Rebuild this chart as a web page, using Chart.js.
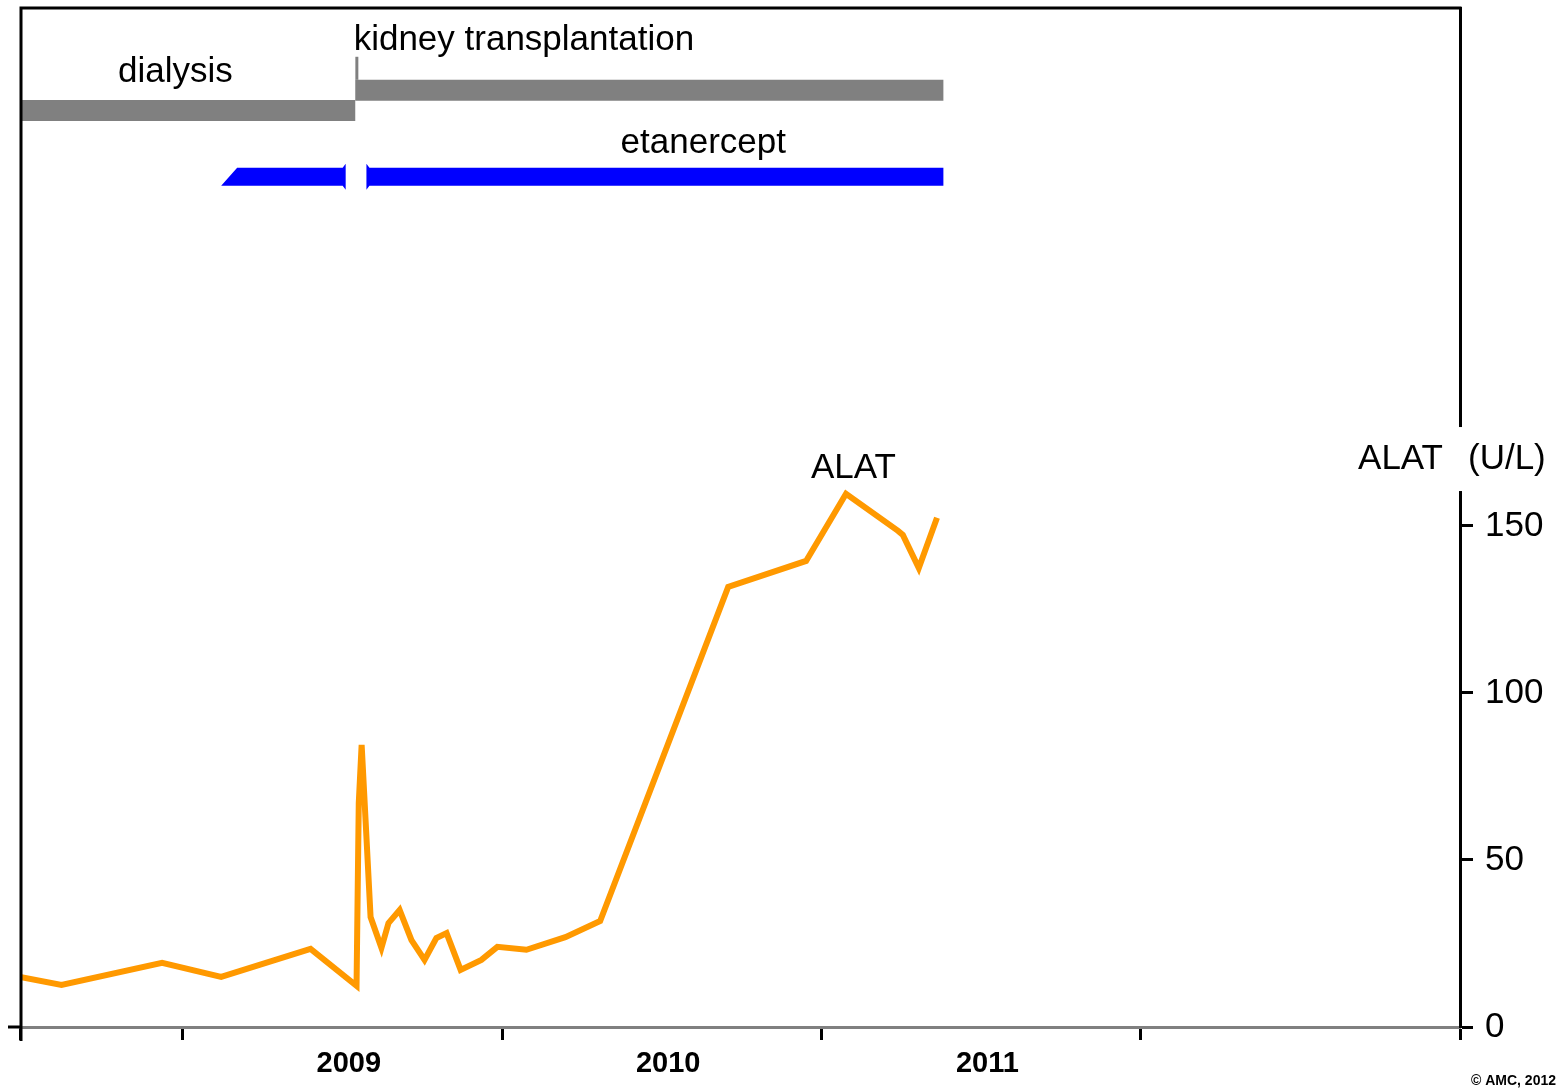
<!DOCTYPE html>
<html>
<head>
<meta charset="utf-8">
<script src="https://cdn.jsdelivr.net/npm/chart.js@4/dist/chart.umd.min.js"></script>
<style>
	html, body { margin: 0; padding: 0; background: #fff; }
	canvas { display: block; }
</style>
</head>
<body>
<canvas id="alatChart" width="1557" height="1091"></canvas>
<script>
// ALAT (U/L), time given as decimal years
const alat_dates = [2008.49, 2008.62, 2008.935, 2009.12, 2009.40, 2009.544, 2009.551, 2009.560, 2009.569, 2009.588,
	2009.622, 2009.644, 2009.679, 2009.716, 2009.757, 2009.794, 2009.826, 2009.870, 2009.935, 2009.985,
	2010.076, 2010.198, 2010.307, 2010.708, 2010.952, 2011.077, 2011.240, 2011.255, 2011.305, 2011.362];
const alat_values = [15.0, 12.6, 19.2, 15.0, 23.4, 12.3, 67.1, 84.4, 68.0, 32.9,
	23.7, 31.1, 35.0, 26.0, 20.1, 26.6, 28.1, 17.1, 20.1, 24.0,
	23.1, 26.9, 31.7, 131.7, 139.5, 159.6, 148.5, 147.3, 137.4, 152.4];

const year_ticks = [2008.49, 2009, 2009.52, 2010, 2010.52, 2011, 2011.52, 2012, 2013];
const year_labels = { 2009.52: '2009', 2010.52: '2010', 2011.52: '2011' };
const alat_ticks = [0, 50, 100, 150];

// treatment periods drawn above the curve
const dialysis_span = [2008.49, 2009.54];
const transplant_span = [2009.54, 2011.382];
const transplant_marker = [283.5, 290.4];
const etanercept_spans = [[2009.12, 2009.51], [2009.575, 2011.382]];
const levels = { dialysis: 274.3, transplant: 280.4, etanercept: 254.5 };

const notes = ['dialysis', 'kidney transplantation', 'etanercept', 'ALAT'];
const note_x = [2008.977, 2009.535, 2010.63, 2011.10];
const note_y = [282.9, 292.4, 261.7, 164.4];
const note_align = ['center', 'left', 'center', 'center'];

const FONT = "'Liberation Sans', Arial, sans-serif";

const annotations = {
	id: 'annotations',
	beforeDatasetsDraw: function(chart) {
		const ctx = chart.ctx;
		const xs = chart.scales.x, ys = chart.scales.y;
		const y = ys.getPixelForValue(levels.etanercept);
		const h = 9, flare = 4;
		ctx.save();
		ctx.fillStyle = '#0000ff';
		// first period, slanted start, flared end
		let a = xs.getPixelForValue(etanercept_spans[0][0]);
		let b = xs.getPixelForValue(etanercept_spans[0][1]);
		ctx.beginPath();
		ctx.moveTo(a, y + h);
		ctx.lineTo(a + 16, y - h);
		ctx.lineTo(b - 3, y - h);
		ctx.lineTo(b, y - h - flare);
		ctx.lineTo(b, y + h + flare);
		ctx.lineTo(b - 3, y + h);
		ctx.closePath();
		ctx.fill();
		// second period
		a = xs.getPixelForValue(etanercept_spans[1][0]);
		b = xs.getPixelForValue(etanercept_spans[1][1]);
		ctx.beginPath();
		ctx.moveTo(a, y - h - flare);
		ctx.lineTo(a + 3, y - h);
		ctx.lineTo(b, y - h);
		ctx.lineTo(b, y + h);
		ctx.lineTo(a + 3, y + h);
		ctx.lineTo(a, y + h + flare);
		ctx.closePath();
		ctx.fill();
		ctx.restore();
	},
	afterDraw: function(chart) {
		const ctx = chart.ctx;
		const area = chart.chartArea;
		const xs = chart.scales.x, ys = chart.scales.y;
		ctx.save();
		// frame: top and left lines
		ctx.strokeStyle = '#000';
		ctx.lineWidth = 3;
		ctx.beginPath();
		ctx.moveTo(area.left, area.top);
		ctx.lineTo(area.right + 1.5, area.top);
		ctx.moveTo(area.left + 1, area.top - 1.5);
		ctx.lineTo(area.left + 1, area.bottom + 14);
		ctx.moveTo(area.left - 12, area.bottom);
		ctx.lineTo(area.left, area.bottom);
		ctx.stroke();

		// right axis title breaks the axis line
		const ty = ys.getPixelForValue(170);
		ctx.fillStyle = '#fff';
		ctx.fillRect(area.right - 4, ty - 32, 8, 64);
		ctx.fillStyle = '#000';
		ctx.font = '35px ' + FONT;
		ctx.textBaseline = 'middle';
		ctx.textAlign = 'right';
		ctx.fillText('ALAT', area.right - 17, ty);
		ctx.textAlign = 'left';
		ctx.fillText('(U/L)', area.right + 8, ty);

		// period labels
		ctx.textBaseline = 'alphabetic';
		notes.forEach(function(txt, i) {
			ctx.textAlign = note_align[i];
			ctx.fillText(txt, xs.getPixelForValue(note_x[i]), ys.getPixelForValue(note_y[i]));
		});

		ctx.font = 'bold 14px ' + FONT;
		ctx.textAlign = 'right';
		ctx.fillText('\u00a9 AMC, 2012', chart.width - 1, chart.height - 6);
		ctx.restore();
	}
};

const segment = function(x0, x1, y) {
	return [{ x: x0, y: y }, { x: x1, y: y }];
};

const chart = new Chart(document.getElementById('alatChart'), {
	type: 'line',
	data: {
		datasets: [
			{
				label: 'ALAT',
				data: alat_dates.map(function(d, i) { return { x: d, y: alat_values[i] }; }),
				borderColor: '#ff9900',
				borderWidth: 6,
				pointRadius: 0,
				tension: 0,
				borderJoinStyle: 'miter'
			},
			{
				label: 'dialysis',
				data: segment(dialysis_span[0], dialysis_span[1], levels.dialysis),
				borderColor: '#808080',
				borderWidth: 21,
				borderCapStyle: 'butt',
				pointRadius: 0
			},
			{
				label: 'kidney transplantation',
				data: segment(transplant_span[0], transplant_span[1], levels.transplant),
				borderColor: '#808080',
				borderWidth: 21,
				borderCapStyle: 'butt',
				pointRadius: 0
			},
			{
				label: 'transplant marker',
				data: [{ x: transplant_span[0] + 0.005, y: transplant_marker[0] }, { x: transplant_span[0] + 0.005, y: transplant_marker[1] }],
				borderColor: '#808080',
				borderWidth: 3,
				borderCapStyle: 'butt',
				pointRadius: 0
			}
		]
	},
	options: {
		responsive: false,
		animation: false,
		devicePixelRatio: 1,
		layout: { padding: { left: 20, top: 8, right: 0, bottom: 0 } },
		plugins: {
			legend: { display: false },
			tooltip: { enabled: false }
		},
		scales: {
			x: {
				type: 'linear',
				position: 'bottom',
				min: 2008.49,
				max: 2013,
				afterBuildTicks: function(scale) {
					scale.ticks = year_ticks.map(function(v) { return { value: v }; });
				},
				afterFit: function(scale) {
					scale.height = 64;
					scale.paddingLeft = 0;
					scale.paddingRight = 0;
				},
				border: { color: '#808080', width: 3 },
				grid: {
					display: true,
					drawOnChartArea: false,
					drawTicks: true,
					tickLength: 13,
					tickWidth: 3,
					tickColor: function(c) {
						return (c.tick && year_labels[c.tick.value]) ? 'rgba(0,0,0,0)' : '#000';
					}
				},
				ticks: {
					autoSkip: false,
					maxRotation: 0,
					padding: 7,
					color: '#000',
					font: { family: FONT, size: 29, weight: 'bold' },
					callback: function(v) { return year_labels[v] || ''; }
				}
			},
			y: {
				type: 'linear',
				position: 'right',
				min: 0,
				max: 305,
				afterBuildTicks: function(scale) {
					scale.ticks = alat_ticks.map(function(v) { return { value: v }; });
				},
				afterFit: function(scale) {
					scale.width = 97;
					scale.paddingTop = 0;
					scale.paddingBottom = 0;
				},
				border: { color: '#000', width: 3 },
				grid: {
					display: true,
					drawOnChartArea: false,
					drawTicks: true,
					tickLength: 13,
					tickWidth: 3,
					tickColor: '#000'
				},
				ticks: {
					padding: 12,
					color: '#000',
					font: { family: FONT, size: 35 }
				}
			}
		}
	},
	plugins: [annotations]
});
</script>
</body>
</html>
